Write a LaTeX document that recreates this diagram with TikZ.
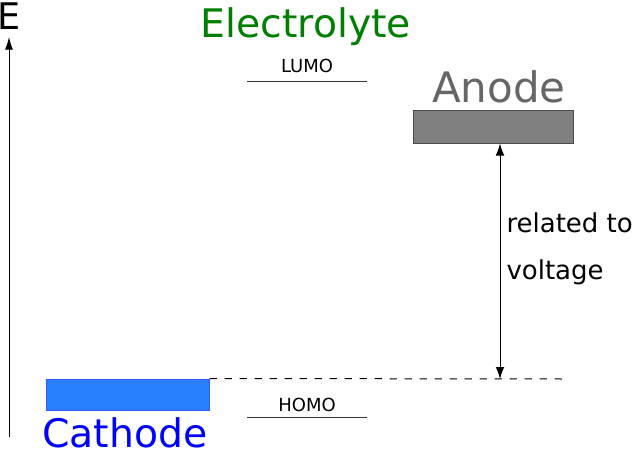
\documentclass[tikz,border=0pt]{standalone}
\usepackage{fontspec}
\setmainfont{DejaVu Sans}
\usetikzlibrary{arrows.meta}
\definecolor{elecgreen}{RGB}{0,128,0}
\definecolor{anodegray}{RGB}{102,102,102}
\definecolor{anodefill}{RGB}{128,128,128}
\definecolor{cathfill}{RGB}{42,127,255}
\definecolor{cathline}{RGB}{51,85,255}
\tikzset{
  bigtext/.style={anchor=base,inner sep=0pt,font=\fontsize{29.5}{35}\selectfont},
  orbtext/.style={anchor=base,inner sep=0pt,font=\fontsize{13.5}{16}\selectfont},
  level/.style={line width=0.75pt,draw=black!80},
  tip/.style={-{Latex[length=9.5pt,width=6pt]}}
}
\begin{document}
\begin{tikzpicture}[x=0.75pt,y=-0.75pt,line width=0.75pt]
\useasboundingbox (0,0) rectangle (634,450);
% energy axis
\coordinate (axlow) at (9,437);
\coordinate (axtop) at (9,37);
\draw[tip] (axlow) -- (axtop);
\node[anchor=base,inner sep=0pt,font=\fontsize{27.5}{32}\selectfont] (elabel) at (9.5,29) {E};
% electrolyte window
\node[bigtext,text=elecgreen] (electrolyte) at (306,37) {Electrolyte};
\coordinate (lumoL) at (247,81);
\coordinate (lumoR) at (367,81);
\draw[level] (lumoL) -- (lumoR);
\node[orbtext] (lumo) at (307,72) {LUMO};
\coordinate (homoL) at (247,417);
\coordinate (homoR) at (367,417);
\draw[level] (homoL) -- (homoR);
\node[orbtext] (homo) at (307,411) {HOMO};
% anode
\node[draw=black!70,fill=anodefill,minimum width=120pt,minimum height=24.75pt,inner sep=0pt] (anode) at (493,126.5) {};
\node[bigtext,text=anodegray,font=\fontsize{31.5}{37}\selectfont] (anodelabel) at (499,102) {Anode};
% cathode
\node[draw=cathline,fill=cathfill,minimum width=122.25pt,minimum height=23.25pt,inner sep=0pt] (cathode) at (127.5,394.5) {};
\node[bigtext,text=blue] (cathodelabel) at (125,447) {Cathode};
% voltage gap
\coordinate (dashend) at (567,379);
\coordinate (volt) at (500,379);
\draw[dash pattern=on 5.5pt off 5.75pt] (cathode.north east) -- (dashend);
\draw[{Latex[length=9pt,width=6.5pt]}-{Latex[length=9pt,width=6.5pt]}] (anode.south -| volt) -- (volt);
\node[anchor=base west,inner sep=0pt,font=\fontsize{19.5}{23}\selectfont] (related) at (506,232) {related to};
\node[anchor=base west,inner sep=0pt,font=\fontsize{19.5}{23}\selectfont] (voltage) at (506,279) {voltage};
\end{tikzpicture}
\end{document}
